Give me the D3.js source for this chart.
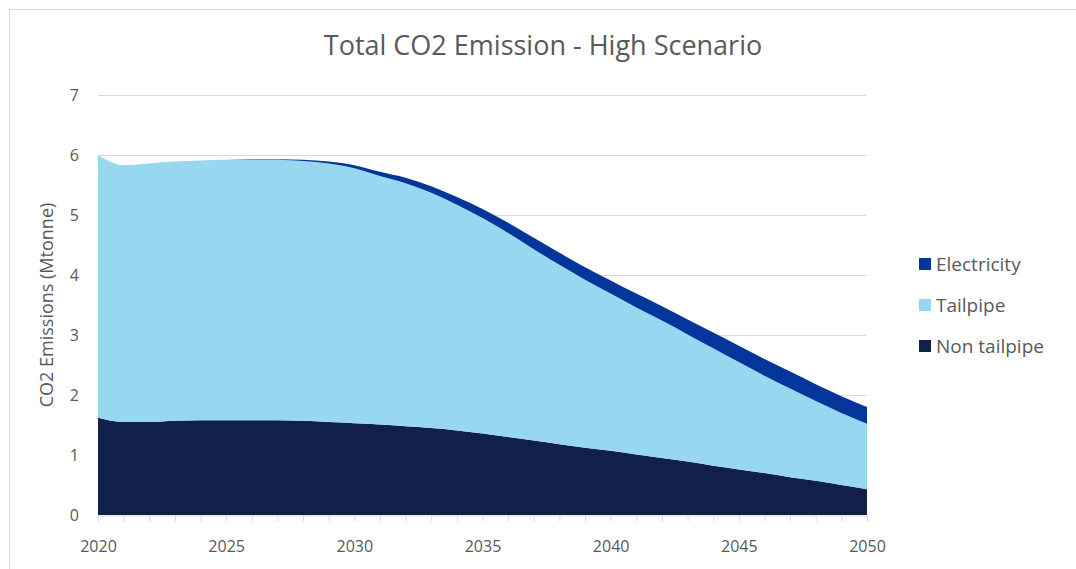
<!DOCTYPE html>
<html>
<head>
<meta charset="utf-8">
<script src="https://cdn.jsdelivr.net/npm/d3@7"></script>
<style>
  html, body { margin: 0; padding: 0; background: #ffffff; }
  svg { display: block; font-family: "Open Sans", "Noto Sans", sans-serif; }
</style>
</head>
<body>
<svg id="chart" width="1076" height="569"></svg>
<script>
// Annual CO2 emissions by source, high scenario (Mtonne)
const years = d3.range(2020, 2051);
const total = [6.00, 5.83, 5.86, 5.89, 5.91, 5.92, 5.93, 5.93, 5.92, 5.89,
               5.83, 5.72, 5.62, 5.48, 5.30, 5.10, 4.87, 4.62, 4.37, 4.13,
               3.91, 3.69, 3.48, 3.26, 3.04, 2.82, 2.60, 2.39, 2.18, 1.98, 1.80];
const electricity = [0.00, 0.00, 0.00, 0.00, 0.00, 0.00, 0.01, 0.01, 0.02, 0.03,
                     0.05, 0.07, 0.09, 0.11, 0.13, 0.15, 0.17, 0.19, 0.20, 0.21,
                     0.22, 0.23, 0.24, 0.25, 0.26, 0.27, 0.28, 0.28, 0.28, 0.28, 0.28];
const nonTailpipe = [1.62, 1.55, 1.55, 1.57, 1.58, 1.58, 1.58, 1.58, 1.57, 1.55,
                     1.53, 1.51, 1.48, 1.45, 1.41, 1.36, 1.30, 1.24, 1.18, 1.12,
                     1.07, 1.01, 0.95, 0.89, 0.82, 0.76, 0.70, 0.63, 0.57, 0.50, 0.43];
const tailpipe = total.map((t, i) => +(t - electricity[i] - nonTailpipe[i]).toFixed(2));

const seriesNames = ["Non tailpipe", "Tailpipe", "Electricity"];
const seriesColors = ["#111f4b", "#97d7f0", "#04359a"];
const yTicks = [0, 1, 2, 3, 4, 5, 6, 7];
const xTickLabels = [2020, 2025, 2030, 2035, 2040, 2045, 2050];

const rows = years.map((y, i) => ({
  year: y,
  "Non tailpipe": nonTailpipe[i],
  "Tailpipe": tailpipe[i],
  "Electricity": electricity[i]
}));

const svg = d3.select("#chart");
const textColor = "#595959";
const gridColor = "#d9d9d9";

// outer chart frame
svg.append("rect")
  .attr("x", 9.5).attr("y", 9.5)
  .attr("width", 1080).attr("height", 580)
  .attr("fill", "#fff").attr("stroke", "#d9d9d9");

const x = d3.scaleLinear().domain([2020, 2050]).range([98, 867]);
const y = d3.scaleLinear().domain([0, 7]).range([515, 95]);

// horizontal gridlines
svg.append("g").selectAll("line").data(yTicks.slice(1)).join("line")
  .attr("x1", x(2020)).attr("x2", x(2050))
  .attr("y1", d => Math.round(y(d)) + 0.5).attr("y2", d => Math.round(y(d)) + 0.5)
  .attr("stroke", gridColor).attr("stroke-width", 1);

// stacked areas
const stack = d3.stack().keys(seriesNames);
const layers = stack(rows);
const area = d3.area()
  .curve(d3.curveMonotoneX)
  .x(d => x(d.data.year))
  .y0(d => y(d[0]))
  .y1(d => y(d[1]));
svg.append("g").selectAll("path").data(layers).join("path")
  .attr("d", area)
  .attr("fill", (d, i) => seriesColors[i]);

// x axis
const xAxis = d3.axisBottom(x)
  .tickValues(years)
  .tickSize(6)
  .tickFormat(d => xTickLabels.includes(d) ? String(d) : "");
const gx = svg.append("g").attr("transform", `translate(0,${y(0) + 0.5})`).call(xAxis);
gx.select(".domain").attr("stroke", gridColor);
gx.selectAll(".tick line").attr("stroke", gridColor);
gx.selectAll(".tick text")
  .attr("fill", textColor).attr("font-size", 16)
  .attr("y", 36).attr("dy", 0)
  .attr("font-family", "Open Sans, sans-serif");

// y axis labels
const yAxis = d3.axisLeft(y).tickValues(yTicks).tickSize(0).tickPadding(19)
  .tickFormat(d3.format("d"));
const gy = svg.append("g").attr("transform", `translate(${x(2020)},0)`).call(yAxis);
gy.select(".domain").remove();
gy.selectAll(".tick text")
  .attr("fill", textColor).attr("font-size", 16)
  .attr("font-family", "Open Sans, sans-serif");

// y axis title
svg.append("text")
  .attr("transform", "translate(53,305) rotate(-90)")
  .attr("text-anchor", "middle")
  .attr("fill", textColor).attr("font-size", 18)
  .text("CO2 Emissions (Mtonne)");

// chart title
svg.append("text")
  .attr("x", 543).attr("y", 55)
  .attr("text-anchor", "middle")
  .attr("fill", textColor).attr("font-size", 27)
  .text("Total CO2 Emission - High Scenario");

// legend (top of stack first)
const legendItems = seriesNames.slice().reverse();
const legendColors = seriesColors.slice().reverse();
const lg = svg.append("g").attr("transform", "translate(919,264)");
legendItems.forEach((name, i) => {
  const g = lg.append("g").attr("transform", `translate(0,${i * 41})`);
  g.append("rect").attr("x", 0).attr("y", -6).attr("width", 12).attr("height", 12)
    .attr("fill", legendColors[i]);
  g.append("text").attr("x", 17).attr("y", 0).attr("dy", "0.36em")
    .attr("fill", textColor).attr("font-size", 19).text(name);
});
</script>
</body>
</html>
